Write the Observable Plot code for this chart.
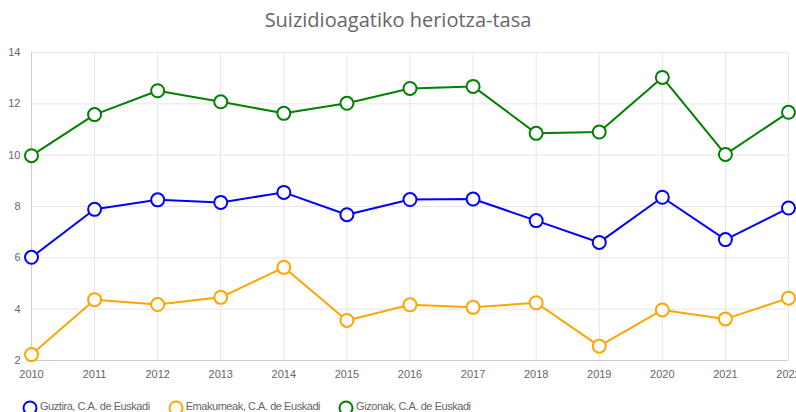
<!DOCTYPE html>
<html>
<head>
<meta charset="utf-8">
<script src="https://cdn.jsdelivr.net/npm/d3@7"></script>
<script src="https://cdn.jsdelivr.net/npm/@observablehq/plot@0.6"></script>
<style>
  html, body { margin: 0; padding: 0; background: #fff; overflow: hidden; width: 796px; height: 412px; }
  #title { height: 40px; line-height: 40px; text-align: center; font-family: "Open Sans", sans-serif; font-size: 20px; color: #666; }
  #chart svg { display: block; overflow: visible; }
  #legend { position: absolute; top: 397px; left: 22px; display: flex; gap: 18px; font-family: "Liberation Sans", Arial, sans-serif; font-size: 11px; letter-spacing: -0.45px; color: #666; align-items: center; }
  #legend .item { display: flex; align-items: center; gap: 2px; }
</style>
</head>
<body>
<div id="title">Suizidioagatiko heriotza-tasa</div>
<div id="chart"></div>
<div id="legend"></div>
<script>
const years = [2010, 2011, 2012, 2013, 2014, 2015, 2016, 2017, 2018, 2019, 2020, 2021, 2022];
const seriesNames = ["Guztira, C.A. de Euskadi", "Emakumeak, C.A. de Euskadi", "Gizonak, C.A. de Euskadi"];
const seriesColors = ["#0000ff", "#ffa500", "#008000"];
const guztira  = [6.02, 7.89, 8.26, 8.16, 8.55, 7.68, 8.27, 8.29, 7.45, 6.60, 8.36, 6.71, 7.94];
const emakumeak = [2.23, 4.37, 4.18, 4.46, 5.63, 3.56, 4.17, 4.07, 4.25, 2.56, 3.97, 3.62, 4.43];
const gizonak  = [9.98, 11.58, 12.51, 12.08, 11.63, 12.02, 12.60, 12.68, 10.85, 10.90, 13.03, 10.03, 11.67];
const yTicks = [2, 4, 6, 8, 10, 12, 14];

const seriesValues = [guztira, emakumeak, gizonak];
const data = [];
seriesNames.forEach((name, i) => {
  years.forEach((yr, j) => data.push({series: name, year: yr, value: seriesValues[i][j]}));
});

const font = '"Liberation Sans", Arial, sans-serif';

const chart = Plot.plot({
  width: 796,
  height: 350,
  marginTop: 12,
  marginBottom: 30,
  marginLeft: 31,
  marginRight: 8,
  style: { fontFamily: font, fontSize: "11px", color: "#666", background: "white", overflow: "visible" },
  x: { type: "linear", domain: [years[0], years[years.length - 1]], label: null },
  y: { domain: [yTicks[0], yTicks[yTicks.length - 1]], label: null },
  color: { domain: seriesNames, range: seriesColors },
  marks: [
    Plot.ruleX(years, { stroke: "#e6e6e6", strokeWidth: 1 }),
    Plot.ruleY(yTicks, { stroke: "#e6e6e6", strokeWidth: 1 }),
    Plot.ruleX([years[0]], { stroke: "#cccccc", strokeWidth: 1 }),
    Plot.ruleY([yTicks[0]], { stroke: "#cccccc", strokeWidth: 1 }),
    Plot.axisX(years, { tickSize: 0, tickPadding: 10, tickFormat: d => String(d), fill: "#666", fontSize: 11, label: null }),
    Plot.axisY(yTicks, { tickSize: 0, tickPadding: 11, fill: "#666", fontSize: 11, label: null }),
    Plot.line(data, { x: "year", y: "value", z: "series", stroke: "series", strokeWidth: 2 }),
    Plot.dot(data, { x: "year", y: "value", stroke: "series", fill: "white", r: 6.5, strokeWidth: 2 })
  ]
});
document.getElementById("chart").appendChild(chart);

const legend = document.getElementById("legend");
seriesNames.forEach((name, i) => {
  const item = document.createElement("div");
  item.className = "item";
  item.innerHTML = `<svg width="16" height="18" style="overflow:visible"><circle cx="8" cy="11" r="6.5" fill="white" stroke="${seriesColors[i]}" stroke-width="2"/></svg><span>${name}</span>`;
  legend.appendChild(item);
});
</script>
</body>
</html>
